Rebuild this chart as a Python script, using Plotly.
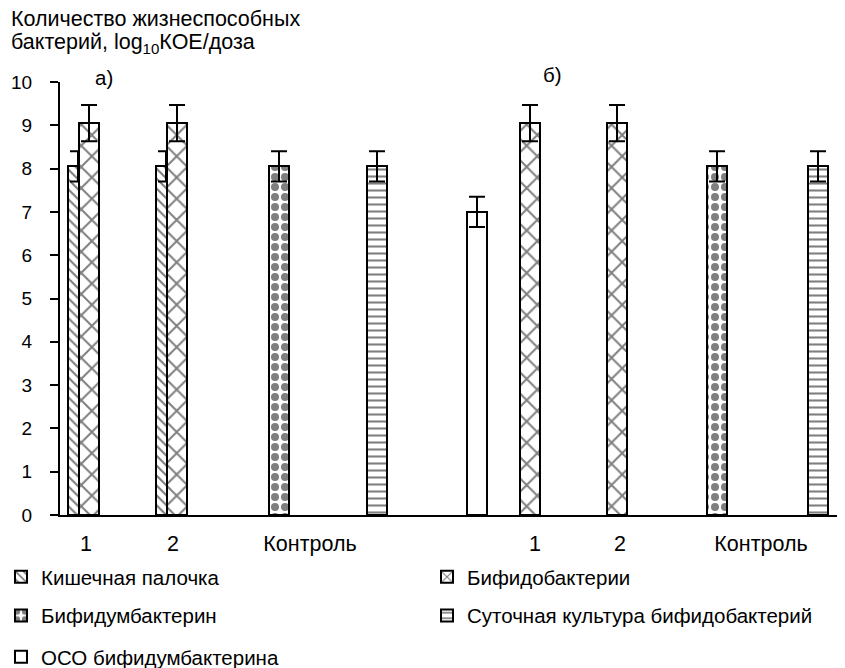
import plotly.graph_objects as go

# ---------------- data ----------------
tick_labels = ["1", "2", "Контроль", "1", "2", "Контроль"]

series_names = ["Кишечная палочка", "Бифидобактерии", "Бифидумбактерин",
                "Суточная культура бифидобактерий", "ОСО бифидумбактерина"]

ecoli_vals = [8.05, 8.05]
ecoli_err = [0.35, 0.35]
bifido_vals = [9.05, 9.05, 9.05, 9.05]
bifido_err = [0.42, 0.42, 0.42, 0.42]
bifidumb_vals = [8.05, 8.05]
bifidumb_err = [0.35, 0.35]
daily_vals = [8.05, 8.05]
daily_err = [0.35, 0.35]
oso_vals = [7.0]
oso_err = [0.35]

# ---------------- layout positions (axis units) ----------------
tick_pos = [26, 113, 250, 475, 560, 701]
ecoli_x = [18, 106]
bifido_x = [29, 117, 470, 557]
bifidumb_x = [219, 657]
daily_x = [317, 758]
oso_x = [417]
BAR_W = 20

FONT = "Liberation Sans, Arial, sans-serif"
FS_TXT = 20.5
FS_TITLE = 21.5
FS_XT = 21.5
FS_NUM = 19

def bar(name, x, y, err, shape, size, solidity, legend, group):
    return go.Bar(
        name=name, x=x, y=y, width=BAR_W,
        marker=dict(color="white", line=dict(color="black", width=2),
                    pattern=dict(shape=shape, fgcolor="black", bgcolor="white",
                                 size=size, solidity=solidity, fillmode="overlay")),
        error_y=dict(type="data", array=err, visible=True, color="black",
                     thickness=2, width=8),
        legend=legend, legendgroup=group,
    )

fig = go.Figure()
fig.add_trace(bar(series_names[0], ecoli_x, ecoli_vals, ecoli_err, "\\", 7, 0.3, "legend", "g1"))
fig.add_trace(bar(series_names[1], bifido_x, bifido_vals, bifido_err, "x", 15, 0.25, "legend2", "g2"))
fig.add_trace(bar(series_names[2], bifidumb_x, bifidumb_vals, bifidumb_err, ".", 10, 0.5, "legend", "g3"))
fig.add_trace(bar(series_names[3], daily_x, daily_vals, daily_err, "-", 7, 0.3, "legend2", "g4"))
fig.add_trace(bar(series_names[4], oso_x, oso_vals, oso_err, "", 8, 0.3, "legend3", "g5"))

# the page places the figure 8 px in from the top-left corner
W, H = 837, 660
L, R, T, B = 52, 0, 74, 153
pw, ph = W - L - R, H - T - B
SCR_L, SCR_B = 60, 515  # screen pixel of plot-area left / bottom

def px_x(p):
    return (p - SCR_L) / pw

def px_y(p):
    return (SCR_B - p) / ph

legend_common = dict(orientation="v", traceorder="grouped", tracegroupgap=9,
                     font=dict(family=FONT, size=FS_TXT, color="black"),
                     bgcolor="rgba(0,0,0,0)", xanchor="left", yanchor="top",
                     itemclick=False, itemdoubleclick=False)

fig.update_layout(
    width=W, height=H,
    margin=dict(l=L, r=R, t=T, b=B, autoexpand=False),
    paper_bgcolor="white", plot_bgcolor="white",
    barmode="overlay", bargap=0,
    font=dict(family=FONT, size=FS_TXT, color="black"),
    showlegend=True,
    legend=dict(x=px_x(1), y=px_y(557), **legend_common),
    legend2=dict(x=px_x(427), y=px_y(557), **legend_common),
    legend3=dict(x=px_x(1), y=px_y(637), **legend_common),
    xaxis=dict(range=[0, pw], tickvals=tick_pos, ticktext=tick_labels,
               showline=True, linecolor="black", linewidth=2, ticks="",
               showgrid=False, zeroline=False, ticklabelstandoff=8,
               tickfont=dict(family=FONT, size=FS_XT, color="black")),
    yaxis=dict(range=[0, 10], dtick=1, showline=True, linecolor="black", linewidth=2,
               ticks="outside", ticklen=8, tickwidth=2, tickcolor="black",
               showgrid=False, zeroline=False, ticklabelstandoff=14,
               tickfont=dict(family=FONT, size=FS_NUM, color="black")),
    annotations=[
        dict(text="Количество жизнеспособных",
             xref="paper", yref="paper", x=px_x(9), y=px_y(19),
             xanchor="left", yanchor="middle", align="left", showarrow=False,
             font=dict(family=FONT, size=FS_TITLE, color="black")),
        dict(text="бактерий, log<sub>10</sub>КОЕ/доза",
             xref="paper", yref="paper", x=px_x(9), y=px_y(44),
             xanchor="left", yanchor="middle", align="left", showarrow=False,
             font=dict(family=FONT, size=FS_TITLE, color="black")),
        dict(text="а)", xref="paper", yref="paper", x=px_x(104), y=px_y(77),
             xanchor="center", yanchor="middle", showarrow=False,
             font=dict(family=FONT, size=FS_TXT, color="black")),
        dict(text="б)", xref="paper", yref="paper", x=px_x(552), y=px_y(75),
             xanchor="center", yanchor="middle", showarrow=False,
             font=dict(family=FONT, size=FS_TXT, color="black")),
    ],
)

fig.write_html("out.html")
